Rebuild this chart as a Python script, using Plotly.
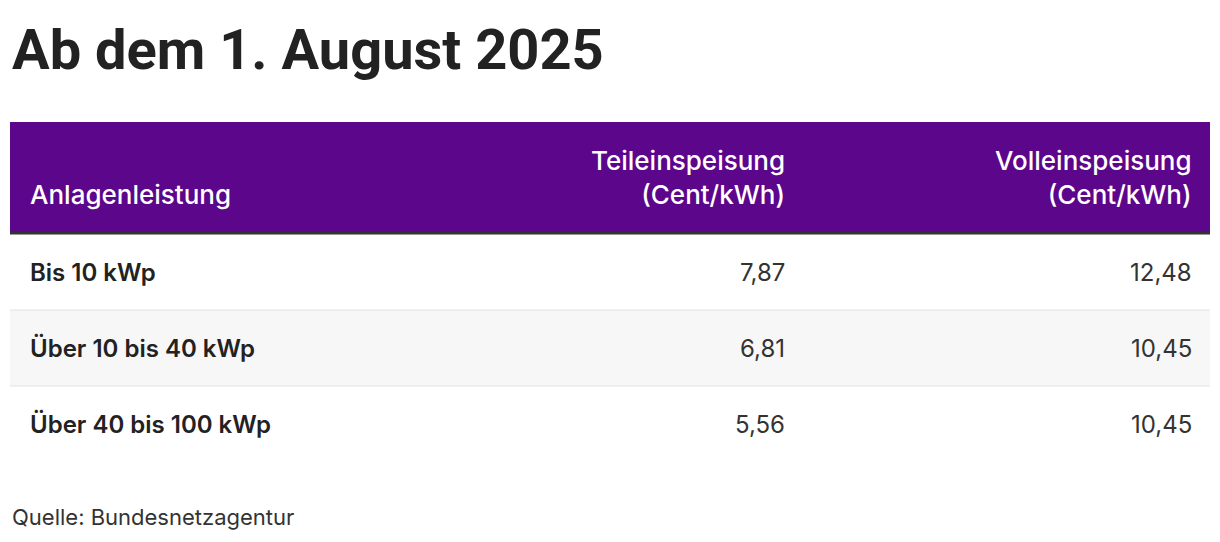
import plotly.graph_objects as go

title = "Ab dem 1. August 2025"
header = ["Anlagenleistung", "Teileinspeisung<br>(Cent/kWh)", "Volleinspeisung<br>(Cent/kWh)"]
rows = ["Bis 10 kWp", "Über 10 bis 40 kWp", "Über 40 bis 100 kWp"]
teil = ["7,87", "6,81", "5,56"]
voll = ["12,48", "10,45", "10,45"]
source = "Quelle: Bundesnetzagentur"

W, H = 1220, 542
off = 8  # page body margin
left, right = 10, 1210
head_top, head_bot = 122, 232
row_h = 76
col_x = [28, 787, 1194]
purple = "#5c068c"
font = "Inter"

fig = go.Figure()
fig.add_trace(go.Scatter(x=[off], y=[off], mode="markers", marker=dict(opacity=0), hoverinfo="skip"))

shapes = []
ann = []
# header
shapes.append(dict(type="rect", x0=left, x1=right, y0=head_top, y1=head_bot,
                   fillcolor=purple, line_width=0, layer="below"))
shapes.append(dict(type="line", x0=left, x1=right, y0=head_bot + 1, y1=head_bot + 1,
                   line=dict(color="#333333", width=3)))
for j, h in enumerate(header):
    ann.append(dict(x=col_x[j], y=head_bot - 20, text=h, xanchor="left" if j == 0 else "right",
                    yanchor="bottom", align="left" if j == 0 else "right", showarrow=False,
                    font=dict(family=font, size=26, color="white", weight=500)))

for i, name in enumerate(rows):
    y0 = head_bot + 2 + i * row_h
    y1 = y0 + row_h
    if i % 2 == 1:
        shapes.append(dict(type="rect", x0=left, x1=right, y0=y0, y1=y1,
                           fillcolor="#f7f7f7", line_width=0, layer="below"))
    if i < len(rows) - 1:
        shapes.append(dict(type="line", x0=left, x1=right, y0=y1, y1=y1,
                           line=dict(color="#e2e2e2", width=1)))
    yc = (y0 + y1) / 2
    ann.append(dict(x=col_x[0], y=yc, text=name, xanchor="left", yanchor="middle", showarrow=False,
                    font=dict(family=font, size=24, color="#222222", weight=600)))
    for j, v in ((1, teil[i]), (2, voll[i])):
        ann.append(dict(x=col_x[j], y=yc, text=v, xanchor="right", yanchor="middle", showarrow=False,
                        font=dict(family=font, size=24, color="#333333")))

ann.append(dict(x=left, y=50, text="<b>" + title + "</b>", xanchor="left", yanchor="middle",
                showarrow=False, font=dict(family="Roboto", size=56, color="#222222")))
ann.append(dict(x=left, y=517, text=source, xanchor="left", yanchor="middle", showarrow=False,
                font=dict(family=font, size=22, color="#333333")))

fig.update_layout(
    width=W, height=H, margin=dict(l=0, r=0, t=0, b=0),
    paper_bgcolor="white", plot_bgcolor="white", showlegend=False,
    xaxis=dict(range=[off, W + off], visible=False, fixedrange=True),
    yaxis=dict(range=[H + off, off], visible=False, fixedrange=True),
    shapes=shapes, annotations=ann,
)
fig.write_html("out.html")
